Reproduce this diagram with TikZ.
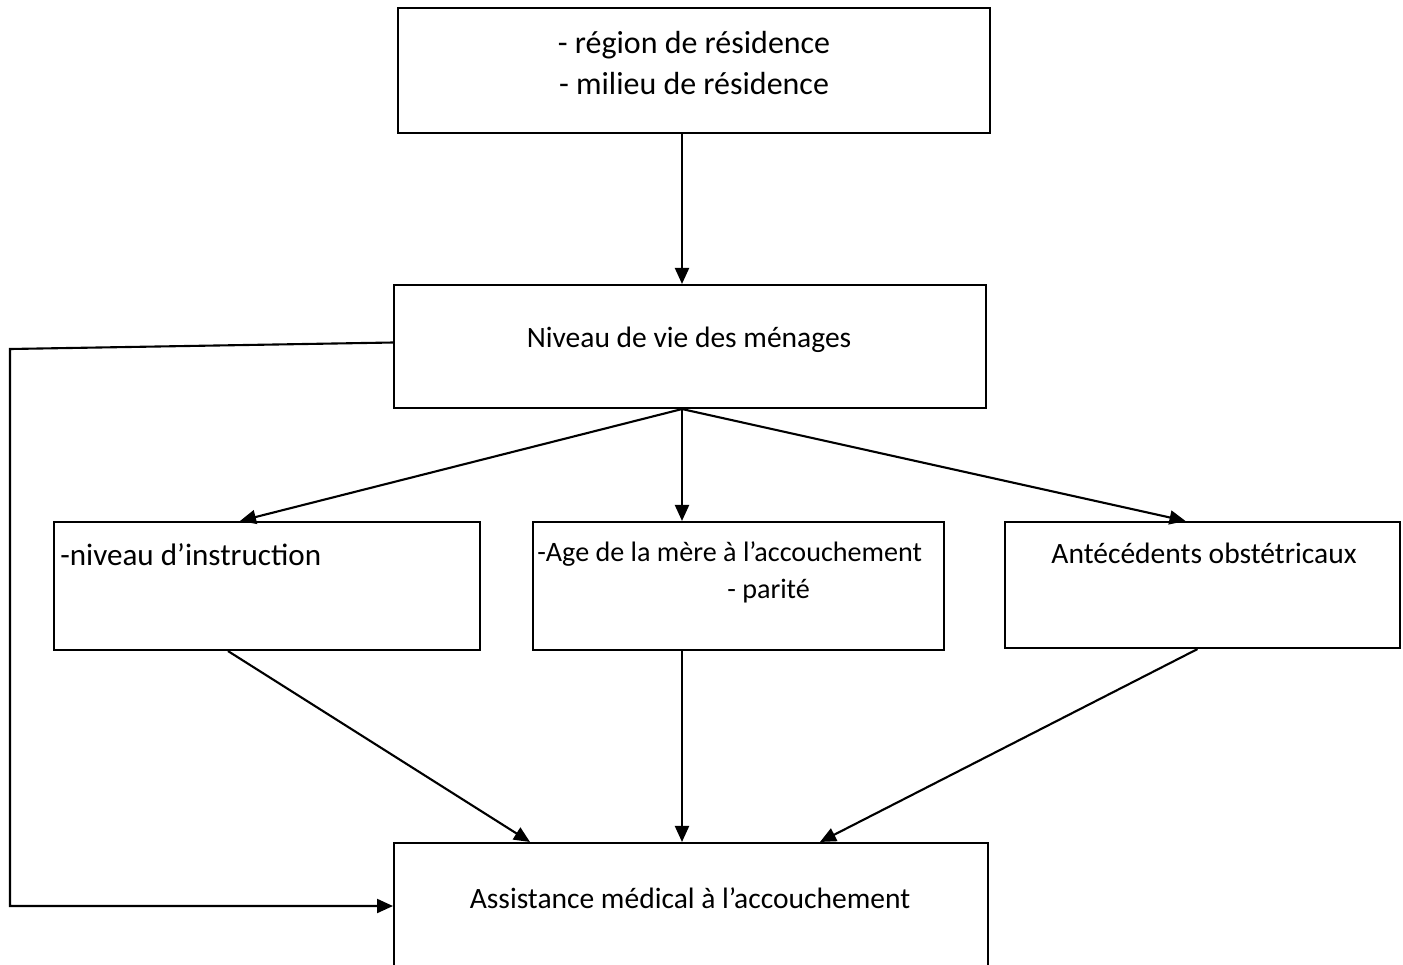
\documentclass[tikz,border=0pt]{standalone}
\usepackage{fontspec}
\setmainfont{Carlito}
\usetikzlibrary{positioning,calc,arrows.meta}
\tikzset{
	boite/.style={draw, line width=1.2pt, inner sep=0pt},
	texte/.style={inner sep=0pt, font=\fontsize{16.8}{23.8}\selectfont},
	fleche/.style={line width=1.2pt, -{Triangle[length=0.32cm, width=0.28cm]}}
}

\begin{document}
\begin{tikzpicture}[x=0.02cm, y=-0.02cm]
			%%%%% START %%%%%
			\clip (0, 0) rectangle (1403, 964);
			
			\node[boite, minimum width=11.84cm, minimum height=2.5cm] (res) at (694, 70.5) {};
			\node[boite, minimum width=11.84cm, minimum height=2.46cm] (niveau) at (690, 346.5) {};
			\node[boite, minimum width=8.52cm, minimum height=2.56cm] (instr) at (267, 586) {};
			\node[boite, minimum width=8.22cm, minimum height=2.56cm] (age) at (738.5, 586) {};
			\node[boite, minimum width=7.9cm, minimum height=2.52cm] (ante) at (1202.5, 585) {};
			\node[boite, minimum width=11.88cm, minimum height=3cm] (assist) at (691, 918) {};
			
			\node[texte, align=center, font=\fontsize{18.2}{23.8}\selectfont] (res txt) at (694, 63) {- région de résidence\\- milieu de résidence};
			\node[texte] (niveau txt) at (689, 340) {Niveau de vie des ménages};
			\node[texte, anchor=west, font=\fontsize{17.7}{21}\selectfont] (instr txt) at (60, 555) {-niveau d’instruction};
			\node[texte, anchor=north west, align=left, font=\fontsize{16}{21}\selectfont] (age txt) at (537, 541) {-Age de la mère à l’accouchement\\\hspace*{3.8cm}- parité};
			\node[texte] (ante txt) at (1204, 553) {Antécédents obstétricaux};
			\node[texte] (assist txt) at (690, 898) {Assistance médical à l’accouchement};
			
			\coordinate (axe) at (682, 0);
			\coordinate (gauche haut) at (10, 349);
			\coordinate (gauche bas) at (10, 906);
			
			\draw[fleche] (res.south -| axe) -- (niveau.north -| axe);
			\draw[fleche] (niveau.south -| axe) -- ($(instr.north)+(-27, 0)$);
			\draw[fleche] (niveau.south -| axe) -- (age.north -| axe);
			\draw[fleche] (niveau.south -| axe) -- ($(ante.north)+(-17, 0)$);
			
			\draw[fleche] ($(instr.south)+(-39, 0)$) -- ($(assist.north)+(-161, 0)$);
			\draw[fleche] (age.south -| axe) -- (assist.north -| axe);
			\draw[fleche] ($(ante.south)+(-5, 0)$) -- ($(assist.north)+(129, 0)$);
			
			\draw[fleche] ($(niveau.west)+(0, -4)$) -- (gauche haut) -- (gauche bas) -- (gauche bas -| assist.west);
			%%%%% END %%%%%
		\end{tikzpicture}
\end{document}
